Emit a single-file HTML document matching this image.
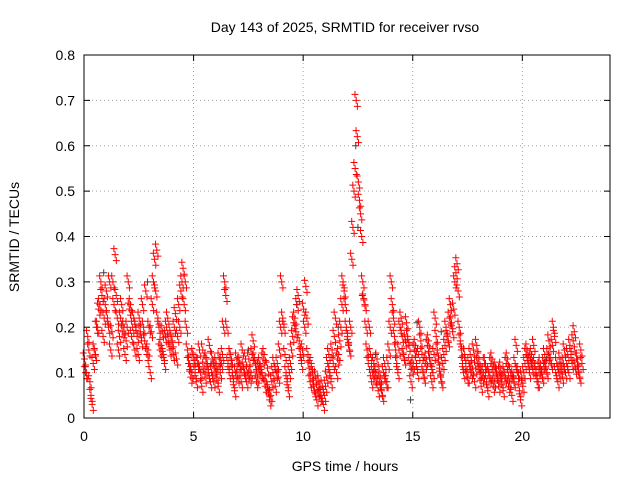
<!DOCTYPE html>
<html>
<head>
<meta charset="utf-8">
<style>
html,body{margin:0;padding:0;background:#fff;}
svg{display:block;font-family:"Liberation Sans",Arial,sans-serif;}
</style>
</head>
<body>
<svg id="chart" width="640" height="480" viewBox="0 0 640 480">
  <text x="345" y="32" font-size="14" text-anchor="middle">Day 143 of 2025, SRMTID for receiver rvso</text>
  <text x="0" y="0" font-size="14" text-anchor="middle" transform="translate(19,237) rotate(-90)">SRMTID / TECUs</text>
  <text x="345" y="471" font-size="14" text-anchor="middle">GPS time / hours</text>
  <g id="grid"></g>
  <g id="ticks"></g>
  <g id="marks"></g>
  <rect x="84" y="55" width="526" height="363" fill="none" stroke="#000" stroke-width="1"/>
</svg>
<script>
const xTicks = [0,5,10,15,20];
const yTicks = [0,0.1,0.2,0.3,0.4,0.5,0.6,0.7,0.8];
const yTickLabels = ["0","0.1","0.2","0.3","0.4","0.5","0.6","0.7","0.8"];
const red1 = [
0.13,0.1,0.15,0.05,0.12, 0.14,0.2,0.25,0.27,0.22,
0.28,0.2,0.15,0.3,0.36, 0.22,0.18,0.25,0.2,0.17,
0.3,0.25,0.2,0.15,0.18, 0.22,0.17,0.2,0.28,0.15,
0.1,0.25,0.35,0.37,0.2, 0.16,0.14,0.18,0.22,0.15,
0.17,0.2,0.13,0.25,0.28, 0.33,0.3,0.15,0.12,0.1,
0.13,0.08,0.12,0.1,0.15, 0.09,0.12,0.16,0.1,0.08,
0.12,0.07,0.1,0.14,0.3, 0.2,0.1,0.13,0.08,0.1,
0.09,0.12,0.15,0.1,0.08, 0.13,0.1,0.17,0.12,0.09,
0.12,0.1,0.14,0.08,0.06, 0.05,0.1,0.07,0.12,0.15,
0.3,0.2,0.1,0.06,0.12, 0.18,0.22,0.25,0.17,0.12,
0.24,0.29,0.14,0.08,0.1, 0.06,0.04,0.08,0.05,0.03,
0.07,0.12,0.1,0.15,0.18, 0.1,0.14,0.2,0.3,0.25,
0.18,0.15,0.35,0.5,0.7, 0.52,0.45,0.3,0.25,0.15,
0.2,0.08,0.12,0.1,0.06, 0.09,0.05,0.12,0.08,0.15,
0.3,0.22,0.15,0.1,0.2, 0.18,0.13,0.21,0.16,0.08,
0.12,0.16,0.1,0.2,0.14, 0.09,0.13,0.17,0.12,0.1,
0.22,0.15,0.11,0.08,0.14, 0.2,0.17,0.25,0.19,0.3,
0.34,0.2,0.15,0.1,0.12, 0.09,0.14,0.11,0.08,0.16,
0.13,0.07,0.1,0.12,0.06, 0.09,0.13,0.08,0.1,0.07,
0.11,0.06,0.09,0.13,0.08, 0.05,0.08,0.16,0.1,0.04,
0.07,0.12,0.15,0.1,0.14, 0.16,0.1,0.08,0.12,0.09,
0.14,0.1,0.17,0.12,0.2, 0.1,0.08,0.13,0.09,0.15,
0.12,0.1,0.14,0.17,0.11,0.13,0.09,0.12
];
const red2 = [
0.1,0.18,0.08,0.03,0.15, 0.2,0.24,0.3,0.18,0.25,
0.22,0.3,0.19,0.25,0.27, 0.15,0.22,0.19,0.14,0.2,
0.24,0.18,0.22,0.2,0.14, 0.19,0.25,0.17,0.14,0.2,
0.19,0.3,0.28,0.22,0.15, 0.19,0.12,0.2,0.17,0.18,
0.14,0.23,0.18,0.2,0.3, 0.25,0.2,0.12,0.09,0.14,
0.1,0.12,0.15,0.07,0.11, 0.13,0.1,0.08,0.13,0.11,
0.09,0.13,0.12,0.2,0.27, 0.12,0.14,0.1,0.06,0.13,
0.12,0.08,0.11,0.13,0.1, 0.09,0.14,0.13,0.08,0.11,
0.1,0.13,0.07,0.11,0.04, 0.08,0.12,0.1,0.09,0.2,
0.22,0.14,0.08,0.1,0.15, 0.21,0.19,0.27,0.14,0.15,
0.2,0.22,0.11,0.12,0.07, 0.09,0.06,0.05,0.07,0.05,
0.09,0.14,0.08,0.12,0.22, 0.13,0.17,0.25,0.28,0.2,
0.16,0.2,0.42,0.55,0.62, 0.48,0.4,0.26,0.2,0.12,
0.14,0.1,0.09,0.13,0.08, 0.06,0.1,0.08,0.12,0.2,
0.25,0.18,0.12,0.15,0.22, 0.14,0.17,0.18,0.12,0.11,
0.15,0.12,0.14,0.17,0.1, 0.12,0.16,0.13,0.08,0.14,
0.18,0.13,0.09,0.12,0.16, 0.18,0.22,0.21,0.24,0.32,
0.28,0.17,0.12,0.14,0.09, 0.12,0.1,0.15,0.11,0.12,
0.1,0.09,0.12,0.08,0.1, 0.12,0.07,0.11,0.09,0.1,
0.08,0.1,0.12,0.07,0.1, 0.09,0.12,0.1,0.06,0.09,
0.1,0.14,0.12,0.13,0.11, 0.12,0.08,0.11,0.1,0.12,
0.11,0.14,0.13,0.16,0.18, 0.12,0.1,0.11,0.12,0.1,
0.14,0.16,0.12,0.19,0.13,0.1,0.15
];
const grayTimes = [0.9,2.9,5.8,7.5,9.7,11.6,12.4,12.5,12.7,13.3,14.9,15.2,16.3,18.8,19.6,21.1];
const grayVals  = [0.32,0.3,0.12,0.15,0.25,0.2,0.6,0.42,0.27,0.14,0.04,0.21,0.19,0.11,0.09,0.13];

const NS = "http://www.w3.org/2000/svg";
const X0 = 84, X1 = 610, Y0 = 418, Y1 = 55;
function xs(t){ return X0 + t / 24 * (X1 - X0); }
function ys(v){ return Y0 - v / 0.8 * (Y0 - Y1); }

const grid = document.getElementById('grid');
const ticks = document.getElementById('ticks');
const marks = document.getElementById('marks');

yTicks.forEach(function(v, i){
  const y = ys(v);
  if (i > 0 && i < yTicks.length - 1) {
    const g = document.createElementNS(NS, 'line');
    g.setAttribute('x1', X0); g.setAttribute('x2', X1);
    g.setAttribute('y1', y); g.setAttribute('y2', y);
    g.setAttribute('stroke', '#a0a0a0'); g.setAttribute('stroke-dasharray', '1,3');
    
    
    grid.appendChild(g);
  }
  const tl = document.createElementNS(NS, 'path');
  tl.setAttribute('d', 'M' + X0 + ' ' + y + 'h6M' + X1 + ' ' + y + 'h-6');
  tl.setAttribute('stroke', '#000');
  
  
  ticks.appendChild(tl);
  const t = document.createElementNS(NS, 'text');
  t.setAttribute('x', X0 - 9); t.setAttribute('y', y + 5);
  t.setAttribute('font-size', '14'); t.setAttribute('text-anchor', 'end');
  t.textContent = yTickLabels[i];
  
  
  ticks.appendChild(t);
});

xTicks.forEach(function(v){
  const x = xs(v);
  if (v > 0) {
    const g = document.createElementNS(NS, 'line');
    g.setAttribute('x1', x); g.setAttribute('x2', x);
    g.setAttribute('y1', Y1); g.setAttribute('y2', Y0);
    g.setAttribute('stroke', '#a0a0a0'); g.setAttribute('stroke-dasharray', '1,3');
    
    
    grid.appendChild(g);
  }
  const tl = document.createElementNS(NS, 'path');
  tl.setAttribute('d', 'M' + x + ' ' + Y0 + 'v-6M' + x + ' ' + Y1 + 'v6');
  tl.setAttribute('stroke', '#000');
  
  
  ticks.appendChild(tl);
  const t = document.createElementNS(NS, 'text');
  t.setAttribute('x', x); t.setAttribute('y', Y0 + 23);
  t.setAttribute('font-size', '14'); t.setAttribute('text-anchor', 'middle');
  t.textContent = String(v);
  
  
  ticks.appendChild(t);
});

function plusAt(x, y, color){
  const p = document.createElementNS(NS, 'path');
  p.setAttribute('d', 'M' + (x - 3.5) + ' ' + y + 'h7M' + x + ' ' + (y - 3.5) + 'v7');
  p.setAttribute('stroke', color); p.setAttribute('stroke-width', '1');
  
  
  marks.appendChild(p);
}
// each observation drawn as a small cluster of markers (visual density)
function cluster(t, v, color){
  const x = xs(t), y = ys(v);
  plusAt(x, y, color);
  plusAt(x - 1.2, y - 6, color);
  plusAt(x + 1.2, y + 6, color);
}
grayTimes.forEach(function(t, i){ plusAt(xs(t), ys(grayVals[i]), '#404040'); });
red1.forEach(function(v, i){ cluster(i * 0.1 + 0.02, v, '#ff0000'); });
red2.forEach(function(v, i){ cluster(i * 0.1 + 0.07, v, '#ff0000'); });
</script>
</body>
</html>
